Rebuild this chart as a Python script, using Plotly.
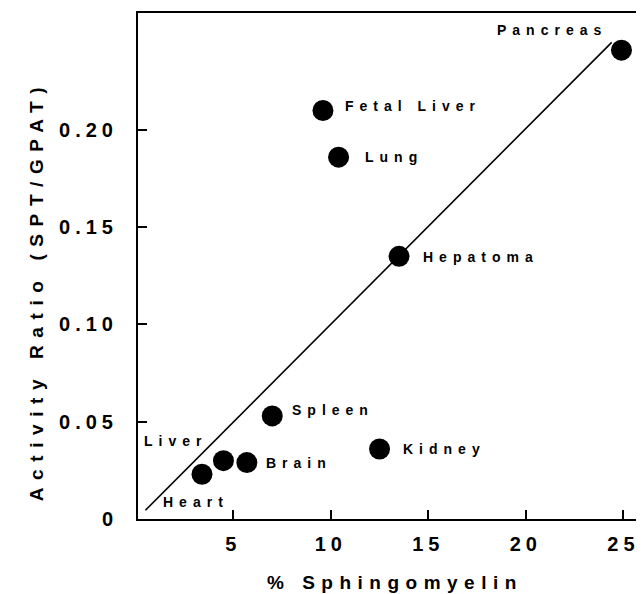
import plotly.graph_objects as go

# Data
tissues = ["Heart", "Liver", "Brain", "Spleen", "Kidney", "Hepatoma", "Fetal Liver", "Lung", "Pancreas"]
sphingomyelin = [3.4, 4.5, 5.7, 7.0, 12.5, 13.5, 9.6, 10.4, 24.9]
activity_ratio = [0.023, 0.030, 0.029, 0.053, 0.036, 0.135, 0.210, 0.186, 0.241]
fit_x = [0.5, 24.4]
fit_y = [0.0045, 0.245]
x_ticks = [5, 10, 15, 20, 25]
x_ticktext = ["5", "10", "15", "20", "25"]
y_ticks = [0, 0.05, 0.10, 0.15, 0.20]
y_ticktext = ["0", "0.05", "0.10", "0.15", "0.20"]
x_title = "% Sphingomyelin"
y_title = "Activity Ratio (SPT/GPAT)"

# label offsets (px): xshift, yshift, xanchor
label_pos = {
    "Heart": (-6, -28, "center"),
    "Liver": (-14, 20, "right"),
    "Brain": (17, 0, "left"),
    "Spleen": (18, 6, "left"),
    "Kidney": (21, 0, "left"),
    "Hepatoma": (22, -1, "left"),
    "Fetal Liver": (20, 4, "left"),
    "Lung": (24, 0, "left"),
    "Pancreas": (-12, 20, "right"),
}

FONT = "Liberation Sans, Arial, Helvetica, sans-serif"

def sp(t, s):
    return '<span style="letter-spacing:%gpx">%s</span>' % (s, t)

fig = go.Figure()
fig.add_trace(go.Scatter(x=fit_x, y=fit_y, mode="lines",
                         line=dict(color="black", width=1.6), hoverinfo="skip"))
fig.add_trace(go.Scatter(x=sphingomyelin, y=activity_ratio, mode="markers",
                         marker=dict(color="black", size=21, line=dict(width=0)),
                         text=tissues))

for t, xv, yv in zip(tissues, sphingomyelin, activity_ratio):
    xs, ys, xa = label_pos[t]
    fig.add_annotation(x=xv, y=yv, text=sp(t, 6), showarrow=False,
                       xanchor=xa, yanchor="middle", xshift=xs, yshift=ys,
                       font=dict(family=FONT, size=14, color="black", weight="bold"))

# axis titles as annotations
fig.add_annotation(xref="paper", yref="paper", x=0.512, y=0, yshift=-63,
                   text=sp(x_title, 6.5), showarrow=False, xanchor="center", yanchor="middle",
                   font=dict(family=FONT, size=19, color="black", weight="bold"))
fig.add_annotation(xref="paper", yref="paper", x=0, xshift=-102, y=0.452,
                   text=sp(y_title, 7.6), showarrow=False, textangle=-90,
                   xanchor="center", yanchor="middle",
                   font=dict(family=FONT, size=19, color="black", weight="bold"))

axis_common = dict(showline=True, linecolor="black", linewidth=2, mirror=True,
                   ticks="inside", ticklen=9, tickwidth=1.5, tickcolor="black",
                   showgrid=False, zeroline=False, automargin=False,
                   tickfont=dict(family=FONT, size=20, color="black", weight="bold"))

fig.update_xaxes(range=[0.12, 25.85], tickvals=x_ticks,
                 ticktext=[sp(t, 5) for t in x_ticktext],
                 ticklabelstandoff=6,
                 **axis_common)
fig.update_yaxes(range=[0, 0.2601], tickvals=y_ticks,
                 ticktext=[sp(t, 5) for t in y_ticktext],
                 ticklabelstandoff=14,
                 **axis_common)

# page body has an 8px default margin, so margins compensate for it
fig.update_layout(width=644, height=594, showlegend=False,
                  plot_bgcolor="white", paper_bgcolor="white",
                  margin=dict(l=130, r=12, t=5, b=83))

fig.write_html("out.html")
